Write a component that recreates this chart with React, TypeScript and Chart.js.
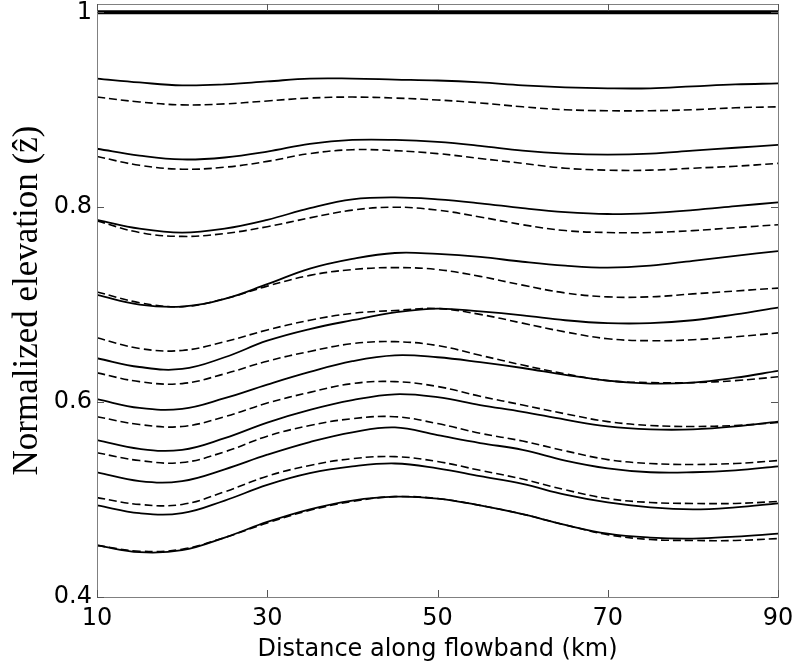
import { useEffect, useRef } from 'react';
import { Chart, registerables } from 'chart.js';

Chart.register(...registerables);

// ---------------- data ----------------
const distanceKm = [10, 15, 20, 25, 30, 35, 40, 45, 50, 55, 60, 65, 70, 75, 80, 85, 90];

const surfaceLine = [1, 1, 1, 1, 1, 1, 1, 1, 1, 1, 1, 1, 1, 1, 1, 1, 1];

const solid1 = [0.932, 0.928, 0.925, 0.926, 0.929, 0.932, 0.932, 0.931, 0.930, 0.928, 0.925, 0.923, 0.922, 0.922, 0.924, 0.926, 0.927];
const dashed1 = [0.913, 0.908, 0.905, 0.906, 0.909, 0.912, 0.913, 0.912, 0.910, 0.907, 0.903, 0.900, 0.899, 0.899, 0.900, 0.902, 0.903];

const solid2 = [0.860, 0.853, 0.849, 0.851, 0.857, 0.865, 0.869, 0.869, 0.867, 0.863, 0.858, 0.855, 0.854, 0.855, 0.858, 0.861, 0.864];
const dashed2 = [0.852, 0.843, 0.839, 0.841, 0.847, 0.855, 0.859, 0.858, 0.855, 0.850, 0.845, 0.840, 0.838, 0.838, 0.840, 0.842, 0.845];

const solid3 = [0.787, 0.778, 0.774, 0.778, 0.787, 0.799, 0.808, 0.810, 0.808, 0.804, 0.799, 0.795, 0.793, 0.794, 0.797, 0.801, 0.805];
const dashed3 = [0.786, 0.774, 0.770, 0.773, 0.780, 0.789, 0.797, 0.800, 0.797, 0.790, 0.782, 0.776, 0.774, 0.774, 0.776, 0.779, 0.782];

const solid4 = [0.710, 0.700, 0.698, 0.706, 0.721, 0.737, 0.747, 0.753, 0.752, 0.749, 0.744, 0.740, 0.738, 0.740, 0.745, 0.750, 0.755];
const dashed4 = [0.713, 0.702, 0.698, 0.706, 0.719, 0.730, 0.736, 0.738, 0.736, 0.729, 0.720, 0.712, 0.708, 0.708, 0.711, 0.714, 0.717];

const solid5 = [0.645, 0.636, 0.634, 0.646, 0.663, 0.675, 0.684, 0.692, 0.696, 0.693, 0.689, 0.684, 0.681, 0.681, 0.684, 0.690, 0.697];
const dashed5 = [0.666, 0.655, 0.653, 0.662, 0.674, 0.684, 0.691, 0.694, 0.696, 0.690, 0.681, 0.672, 0.665, 0.663, 0.664, 0.667, 0.671];

const solid6 = [0.603, 0.594, 0.593, 0.604, 0.618, 0.631, 0.642, 0.648, 0.646, 0.641, 0.635, 0.628, 0.622, 0.619, 0.620, 0.625, 0.632];
const dashed6 = [0.630, 0.621, 0.619, 0.629, 0.642, 0.652, 0.660, 0.662, 0.658, 0.648, 0.638, 0.629, 0.622, 0.620, 0.620, 0.622, 0.626];

const solid7 = [0.561, 0.552, 0.551, 0.563, 0.579, 0.592, 0.602, 0.608, 0.605, 0.597, 0.590, 0.582, 0.575, 0.572, 0.572, 0.575, 0.580];
const dashed7 = [0.585, 0.577, 0.575, 0.585, 0.599, 0.610, 0.619, 0.621, 0.616, 0.606, 0.597, 0.588, 0.580, 0.576, 0.575, 0.576, 0.579];

const solid8 = [0.528, 0.519, 0.519, 0.531, 0.546, 0.559, 0.569, 0.574, 0.566, 0.558, 0.551, 0.540, 0.532, 0.528, 0.528, 0.530, 0.534];
const dashed8 = [0.548, 0.540, 0.538, 0.549, 0.565, 0.576, 0.583, 0.585, 0.578, 0.568, 0.560, 0.550, 0.541, 0.537, 0.536, 0.537, 0.540];

const solid9 = [0.494, 0.486, 0.486, 0.499, 0.515, 0.527, 0.534, 0.537, 0.532, 0.524, 0.516, 0.505, 0.497, 0.492, 0.490, 0.492, 0.496];
const dashed9 = [0.502, 0.495, 0.495, 0.508, 0.524, 0.535, 0.542, 0.544, 0.539, 0.530, 0.521, 0.510, 0.501, 0.497, 0.496, 0.496, 0.498];

const solid10 = [0.453, 0.446, 0.448, 0.461, 0.477, 0.490, 0.499, 0.503, 0.501, 0.494, 0.485, 0.474, 0.465, 0.461, 0.460, 0.462, 0.465];
const dashed10 = [0.453, 0.447, 0.449, 0.461, 0.476, 0.489, 0.498, 0.503, 0.501, 0.494, 0.485, 0.474, 0.464, 0.459, 0.458, 0.458, 0.460];

const solidSeries = [solid1, solid2, solid3, solid4, solid5, solid6, solid7, solid8, solid9, solid10];
const dashedSeries = [dashed1, dashed2, dashed3, dashed4, dashed5, dashed6, dashed7, dashed8, dashed9, dashed10];

const xTickValues = [10, 30, 50, 70, 90];
const yTickValues = [0.4, 0.6, 0.8, 1];
const xAxisTitle = 'Distance along flowband (km)';
const yAxisTitle = 'Normalized elevation (ẑ)';

// ---------------- helpers ----------------
const toPoints = (ys: number[]) => ys.map((y, i) => ({ x: distanceKm[i], y }));

const frameAndTicks = {
  id: 'frameAndTicks',
  afterDraw(chart: any) {
    const { ctx, chartArea: a, scales } = chart;
    ctx.save();
    ctx.strokeStyle = '#808080';
    ctx.lineWidth = 1;
    ctx.strokeRect(a.left + 0.5, a.top + 0.5, a.right - a.left, a.bottom - a.top);
    ctx.strokeStyle = '#555555';
    const len = 7;
    ctx.beginPath();
    xTickValues.forEach((v) => {
      const px = Math.round(scales.x.getPixelForValue(v)) + 0.5;
      ctx.moveTo(px, a.bottom);
      ctx.lineTo(px, a.bottom - len);
      ctx.moveTo(px, a.top);
      ctx.lineTo(px, a.top + len);
    });
    yTickValues.forEach((v) => {
      const py = Math.round(scales.y.getPixelForValue(v)) + 0.5;
      ctx.moveTo(a.left, py);
      ctx.lineTo(a.left + len, py);
      ctx.moveTo(a.right, py);
      ctx.lineTo(a.right - len, py);
    });
    ctx.stroke();
    ctx.restore();
  },
};

export default function App() {
  const canvasRef = useRef<HTMLCanvasElement | null>(null);

  useEffect(() => {
    const canvas = canvasRef.current;
    if (!canvas) return;

    const datasets: any[] = [];
    solidSeries.forEach((s, i) => {
      datasets.push({
        label: `solid ${i + 1}`,
        data: toPoints(s),
        borderColor: '#000',
        borderWidth: 1.8,
        pointRadius: 0,
        fill: false,
        tension: 0.4,
      });
    });
    dashedSeries.forEach((s, i) => {
      datasets.push({
        label: `dashed ${i + 1}`,
        data: toPoints(s),
        borderColor: '#000',
        borderWidth: 1.6,
        borderDash: [8, 4],
        pointRadius: 0,
        fill: false,
        tension: 0.4,
      });
    });
    datasets.push({
      label: 'surface',
      data: toPoints(surfaceLine),
      borderColor: '#000',
      borderWidth: 4,
      pointRadius: 0,
      fill: false,
    });

    const chart = new Chart(canvas, {
      type: 'line',
      data: { datasets },
      plugins: [frameAndTicks],
      options: {
        responsive: false,
        animation: false,
        events: [],
        layout: { padding: { left: 0, right: 19, top: 4, bottom: 0 } },
        plugins: {
          legend: { display: false },
          tooltip: { enabled: false },
        },
        scales: {
          x: {
            type: 'linear',
            min: 10,
            max: 90,
            afterBuildTicks: (s: any) => {
              s.ticks = xTickValues.map((v) => ({ value: v }));
            },
            afterFit: (s: any) => {
              s.height = 71;
              s.paddingLeft = 0;
              s.paddingRight = 0;
            },
            grid: { display: false, drawTicks: false },
            border: { display: false },
            ticks: {
              color: '#000',
              font: { family: 'DejaVu Sans', size: 24 },
              padding: 7,
              maxRotation: 0,
              autoSkip: false,
              callback: (v: any) => String(v),
            },
            title: {
              display: true,
              text: xAxisTitle,
              color: '#000',
              font: { family: 'DejaVu Sans', size: 24 },
              padding: { top: 0, bottom: 4 },
            },
          },
          y: {
            type: 'linear',
            min: 0.4,
            max: 1.0085,
            afterBuildTicks: (s: any) => {
              s.ticks = yTickValues.map((v) => ({ value: v }));
            },
            afterFit: (s: any) => {
              s.width = 97;
              s.paddingTop = 0;
              s.paddingBottom = 0;
            },
            grid: { display: false, drawTicks: false },
            border: { display: false },
            ticks: {
              color: '#000',
              font: { family: 'DejaVu Sans', size: 24 },
              padding: 5,
              autoSkip: false,
              callback: (v: any) => (v === 1 ? '1' : Number(v).toFixed(1)),
            },
            title: {
              display: true,
              text: yAxisTitle,
              color: '#000',
              font: { family: 'Liberation Serif', size: 35 },
              padding: { top: 7, bottom: 0 },
            },
          },
        },
      } as any,
    });

    return () => {
      chart.destroy();
    };
  }, []);

  return (
    <div style={{ position: 'absolute', left: 0, top: 0, width: 797, height: 668, background: '#fff' }}>
      <canvas ref={canvasRef} width={797} height={668} style={{ display: 'block' }} />
    </div>
  );
}
